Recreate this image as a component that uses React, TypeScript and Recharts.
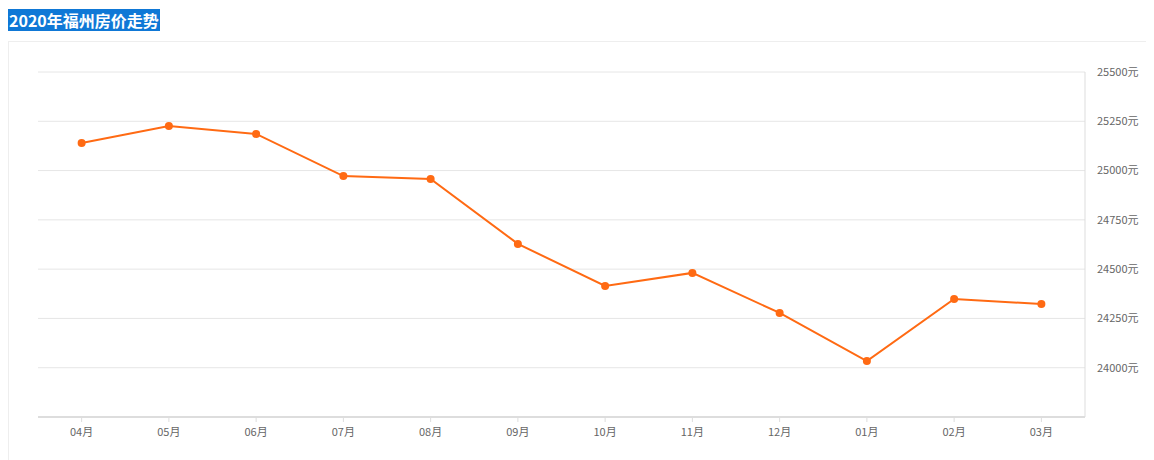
import { CartesianGrid, Line, LineChart, XAxis, YAxis } from 'recharts';

const months = ['04月', '05月', '06月', '07月', '08月', '09月', '10月', '11月', '12月', '01月', '02月', '03月'];
const prices = [25140, 25226, 25186, 24972, 24957, 24628, 24415, 24481, 24278, 24034, 24349, 24323];
const yTicks = [23750, 24000, 24250, 24500, 24750, 25000, 25250, 25500];

const data = months.map((m, i) => ({ month: m, price: prices[i] }));

const font = '"Noto Sans CJK SC", "Noto Sans", sans-serif';

export default function App() {
  return (
    <div style={{ fontFamily: font, width: 1146 }}>
      <div style={{ height: 33 }}>
        <span
          style={{
            background: '#0f78d6',
            color: '#fff',
            fontWeight: 'bold',
            fontSize: 16,
            lineHeight: '22px',
            display: 'inline-block',
            padding: '0 1px',
          }}>
          2020年福州房价走势
        </span>
      </div>
      <div style={{ border: '1px solid #eee', borderRight: 'none', height: 430, width: 1160 }}>
        <LineChart
          width={1145}
          height={410}
          data={data}
          margin={{ top: 30, right: 9, left: 29, bottom: 5 }}>
          <CartesianGrid vertical={false} stroke="#e6e6e6" />
          <XAxis
            dataKey="month"
            scale="band"
            height={30}
            stroke="#ddd"
            strokeWidth={2}
            tick={{ fontSize: 11, fill: '#666' }}
            tickLine={{ stroke: '#ddd', strokeWidth: 1 }}
            tickSize={5}
            tickMargin={6}
          />
          <YAxis
            orientation="right"
            width={60}
            domain={[23750, 25500]}
            ticks={yTicks}
            interval={0}
            stroke="#ddd"
            tickLine={false}
            tick={{ fontSize: 11, fill: '#666', textAnchor: 'start' }}
            tickMargin={6}
            tickFormatter={(v) => (v === 23750 ? '' : `${v}元`)}
          />
          <Line
            dataKey="price"
            stroke="#ff6a13"
            strokeWidth={2}
            dot={{ r: 4, fill: '#ff6a13', stroke: '#ff6a13', strokeWidth: 0 }}
            isAnimationActive={false}
          />
        </LineChart>
      </div>
    </div>
  );
}
